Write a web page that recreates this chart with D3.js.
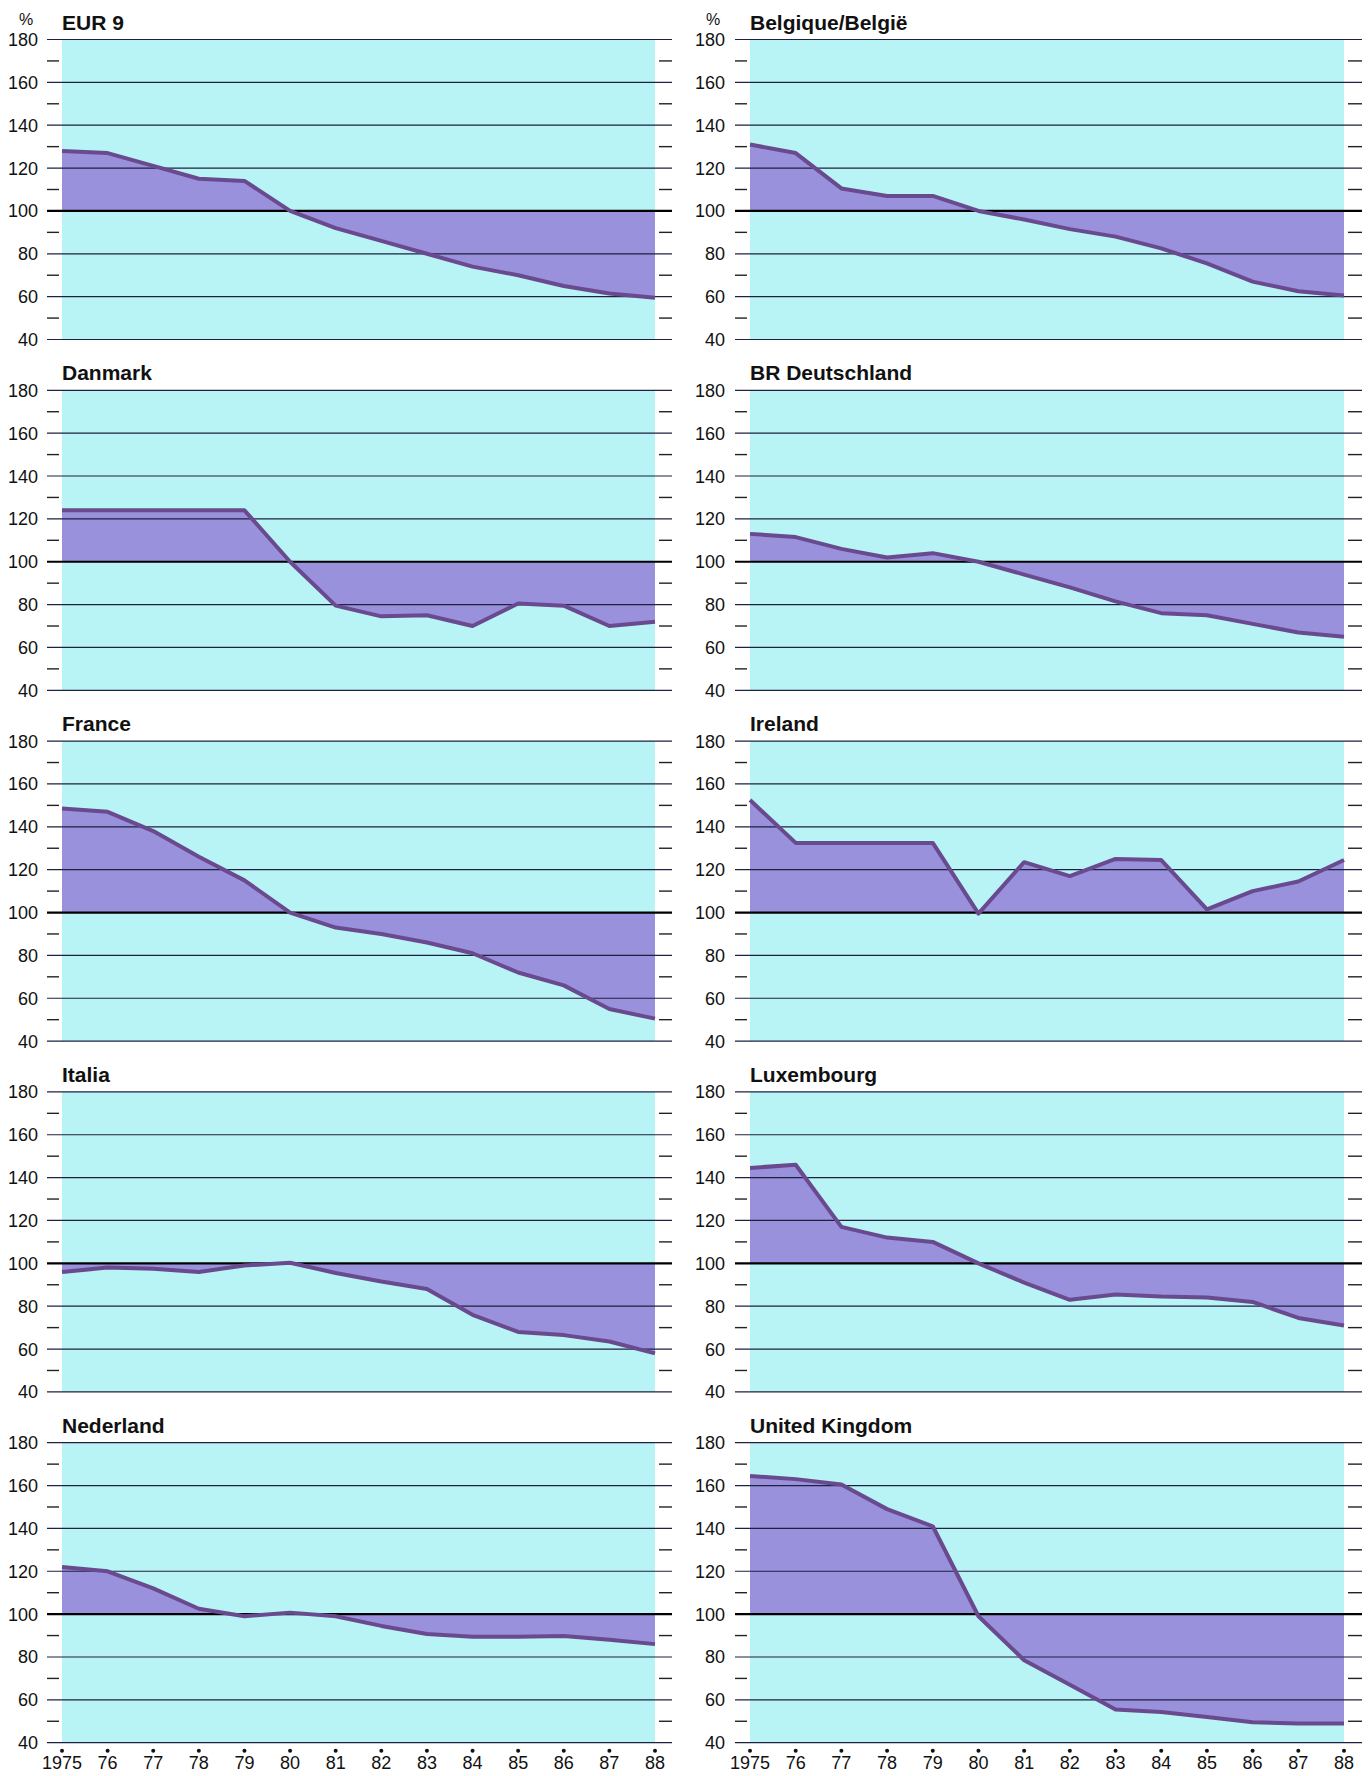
<!DOCTYPE html>
<html lang="en">
    <head>
        <meta charset="utf-8">
        <title>EUR 9 panels</title>
        <script src="https://d3js.org/d3.v7.min.js"></script>
        <style type="text/css">
            body { margin: 0; background: #ffffff; }
            text { font-family: "Liberation Sans", Arial, sans-serif; fill: #111; }
            .ylab { font-size: 18px; }
            .xlab { font-size: 18px; }
            .title { font-size: 21px; font-weight: bold; }
            .grid { stroke: #1d2240; stroke-width: 1.2px; }
            .base { stroke: #000; stroke-width: 2.2px; }
            .minor { stroke: #222; stroke-width: 1.4px; }
            .area { fill: #9a91dc; }
            .line { fill: none; stroke: #6a4a8e; stroke-width: 4px; stroke-linejoin: round; }
        </style>
    </head>
    <body>
        <script type="text/javascript">

            const w = 1372;
            const h = 1776;

            //data (index, 1980 = 100)
            const years = [1975, 1976, 1977, 1978, 1979, 1980, 1981, 1982, 1983, 1984, 1985, 1986, 1987, 1988];
            const yearLabels = ["1975", "76", "77", "78", "79", "80", "81", "82", "83", "84", "85", "86", "87", "88"];
            const yTicks = [40, 60, 80, 100, 120, 140, 160, 180];
            const yMinor = [50, 70, 90, 110, 130, 150, 170];

            const titles = ["EUR 9", "Belgique/België", "Danmark", "BR Deutschland", "France",
                            "Ireland", "Italia", "Luxembourg", "Nederland", "United Kingdom"];

            const eur9        = [128, 127, 121, 115, 114, 100, 92, 86, 80, 74, 70, 65, 61.5, 59.5];
            const belgique    = [131, 127, 110.5, 107, 107, 100, 96, 91.5, 88, 82.5, 75.5, 67, 62.5, 60.5];
            const danmark     = [124, 124, 124, 124, 124, 100, 79.5, 74.5, 75, 70, 80.5, 79.5, 70, 72];
            const deutschland = [113, 111.5, 106, 102, 104, 100, 94, 88, 81.5, 76, 75, 71, 67, 65];
            const france      = [148.5, 147, 138, 126, 115, 100, 93, 90, 86, 81, 72, 66, 55, 50.5];
            const ireland     = [152.5, 132.5, 132.5, 132.5, 132.5, 99.5, 123.5, 117, 125, 124.5, 101.5, 110, 114.5, 124.5];
            const italia      = [96, 98, 97.5, 96, 99, 100.3, 95.5, 91.5, 88, 76, 68, 66.5, 63.5, 58];
            const luxembourg  = [144.5, 146, 117, 112, 110, 100, 91, 83, 85.5, 84.5, 84, 82, 74.5, 71];
            const nederland   = [122, 120, 112, 102.5, 99, 100.7, 99, 94.5, 90.7, 89.5, 89.5, 89.8, 88, 86];
            const uk          = [164.5, 163, 160.5, 149, 141, 99, 78.5, 67, 55.5, 54.3, 52, 49.5, 49, 49];

            const series = [eur9, belgique, danmark, deutschland, france, ireland, italia, luxembourg, nederland, uk];

            //layout of the two columns
            const cols = [
                { x0: 62, x1: 655, gridL: 47, gridR: 672, labelX: 38 },
                { x0: 750, x1: 1344, gridL: 735, gridR: 1362, labelX: 725 }
            ];
            const top0 = 39.5;
            const rowStep = 350.8;
            const ph = 300;

            const svg = d3.select("body")
                          .append("svg")
                          .attr("width", w)
                          .attr("height", h);

            series.forEach((vals, i) => {
                const col = cols[i % 2];
                const row = Math.floor(i / 2);
                const top = top0 + row * rowStep;

                const xScale = d3.scaleLinear()
                                 .domain([1975, 1988])
                                 .range([col.x0, col.x1]);
                const yScale = d3.scaleLinear()
                                 .domain([40, 180])
                                 .range([top + ph, top]);

                const g = svg.append("g");

                //cyan background
                g.append("rect")
                 .attr("x", col.x0)
                 .attr("y", top)
                 .attr("width", col.x1 - col.x0)
                 .attr("height", ph)
                 .attr("fill", "#b8f3f5");

                //area between the curve and 100
                const data = years.map((y, k) => ({ year: y, v: vals[k] }));
                const area = d3.area()
                               .x(d => xScale(d.year))
                               .y0(yScale(100))
                               .y1(d => yScale(d.v));
                g.append("path")
                 .datum(data)
                 .attr("class", "area")
                 .attr("d", area);

                //grid lines
                g.selectAll(".grid")
                 .data(yTicks)
                 .enter()
                 .append("line")
                 .attr("class", d => d === 100 ? "base" : "grid")
                 .attr("x1", col.gridL)
                 .attr("x2", col.gridR)
                 .attr("y1", d => yScale(d))
                 .attr("y2", d => yScale(d));

                //minor dashes left and right
                g.selectAll(".minorL")
                 .data(yMinor)
                 .enter()
                 .append("line")
                 .attr("class", "minor")
                 .attr("x1", col.gridL)
                 .attr("x2", col.x0 - 3)
                 .attr("y1", d => yScale(d))
                 .attr("y2", d => yScale(d));
                g.selectAll(".minorR")
                 .data(yMinor)
                 .enter()
                 .append("line")
                 .attr("class", "minor")
                 .attr("x1", col.x1 + 4)
                 .attr("x2", col.gridR)
                 .attr("y1", d => yScale(d))
                 .attr("y2", d => yScale(d));

                //the line on top
                const line = d3.line()
                               .x(d => xScale(d.year))
                               .y(d => yScale(d.v));
                g.append("path")
                 .datum(data)
                 .attr("class", "line")
                 .attr("d", line);

                //y labels
                g.selectAll(".ylab")
                 .data(yTicks)
                 .enter()
                 .append("text")
                 .attr("class", "ylab")
                 .attr("x", col.labelX)
                 .attr("y", d => yScale(d) + 6.5)
                 .attr("text-anchor", "end")
                 .text(d => d);

                //title
                g.append("text")
                 .attr("class", "title")
                 .attr("x", col.x0)
                 .attr("y", top - 10)
                 .text(titles[i]);

                if (row === 0) {
                    g.append("text")
                     .attr("x", col.labelX - 12)
                     .attr("y", top - 15)
                     .attr("text-anchor", "middle")
                     .style("font-size", "16px")
                     .text("%");
                }

                //bottom row: year dots and labels
                if (row === 4) {
                    g.selectAll(".dot")
                     .data(years)
                     .enter()
                     .append("circle")
                     .attr("cx", d => xScale(d))
                     .attr("cy", top + ph + 8)
                     .attr("r", 2)
                     .attr("fill", "#111");
                    g.selectAll(".xlab")
                     .data(years)
                     .enter()
                     .append("text")
                     .attr("class", "xlab")
                     .attr("x", d => xScale(d))
                     .attr("y", top + ph + 26)
                     .attr("text-anchor", "middle")
                     .text((d, k) => yearLabels[k]);
                }
            });

        </script>
    </body>
</html>
